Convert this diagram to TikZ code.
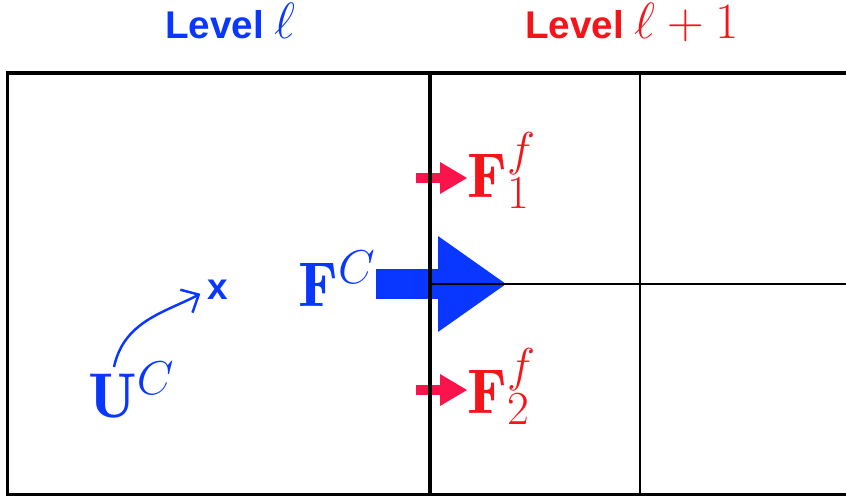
\RequirePackage{fix-cm}
\documentclass[tikz,border=0pt]{standalone}
\usepackage{fontspec}
\setsansfont{Liberation Sans}
\usepackage{tikz}
\usetikzlibrary{arrows.meta, positioning, calc}
\DeclareMathSizes{36}{36}{27}{20}
\definecolor{coarseblue}{RGB}{10, 55, 255}
\definecolor{finered}{RGB}{245, 20, 25}
\definecolor{fluxred}{RGB}{250, 20, 75}

\tikzset{
	frame/.style={line width=2pt, black},
	cut/.style={line width=1.2pt, black},
	lvl/.style={anchor=base west, inner sep=0pt, font=\sffamily\bfseries\fontsize{22}{26}\selectfont},
	flux/.style={anchor=base west, inner sep=0pt, font=\fontsize{36}{44}\selectfont},
	xlab/.style={inner sep=0pt, coarseblue, font=\sffamily\bfseries\fontsize{21}{25}\selectfont},
	bigarrow/.style={coarseblue, line width=0.6cm, -{Triangle[length=1.36cm, width=1.92cm, line width=0pt]}},
	smallarrow/.style={fluxred, line width=0.2cm, -{Triangle[length=0.54cm, width=0.64cm, line width=0pt]}},
	curvearrow/.style={coarseblue, line width=1.4pt, shorten >=0.16cm, -{Straight Barb[length=2.8mm, width=5.2mm]}}
}

\begin{document}
\begin{tikzpicture}[x=0.02cm, y=-0.02cm]
	\useasboundingbox (0,0) rectangle (846,498);
	
	% ── Level labels ─────────────────────────────────────────────────
	\node[lvl, coarseblue] (lvlL) at (165,38) {Level {\fontsize{29}{34}\selectfont$\ell$}};
	\node[lvl, finered] (lvlLp) at (525,38) {Level {\fontsize{29}{34}\selectfont$\ell+1$}};
	
	% ── Coarse cell state ────────────────────────────────────────────
	\node[flux, coarseblue] (UC) at (88,417) {$\mathbf{U}^C$};
	\node[xlab] (xpt) at (218,290) {x};
	\coordinate (ustart) at (114,367);
	\draw[curvearrow] (ustart) to[out=78, in=208] (xpt.west);
	
	% ── Coarse flux F^C ──────────────────────────────────────────────
	\node[flux, coarseblue] (FC) at (298,306) {$\mathbf{F}^C$};
	\coordinate (tipC) at (506,284);
	\draw[bigarrow] (FC.east |- tipC) -- (tipC);
	
	% ── Fine fluxes ──────────────────────────────────────────────────
	\node[flux, finered] (Fone) at (467,197) {$\mathbf{F}^f_1$};
	\node[flux, finered] (Ftwo) at (467,413) {$\mathbf{F}^f_2$};
	\coordinate (sone) at (416,178);
	\coordinate (stwo) at (416,390);
	\draw[smallarrow] (sone) -- (sone -| Fone.west);
	\draw[smallarrow] (stwo) -- (stwo -| Ftwo.west);
	
	% ── Cells ────────────────────────────────────────────────────────
	\draw[frame] (846,73) -- (7.5,73) -- (7.5,494.5) -- (846,494.5);
	\draw[frame, line width=2.3pt] (430,73) -- (430,494.5);
	\draw[cut] (640,73) -- (640,494.5);
	\draw[cut] (430,284) -- (846,284);
\end{tikzpicture}
\end{document}
